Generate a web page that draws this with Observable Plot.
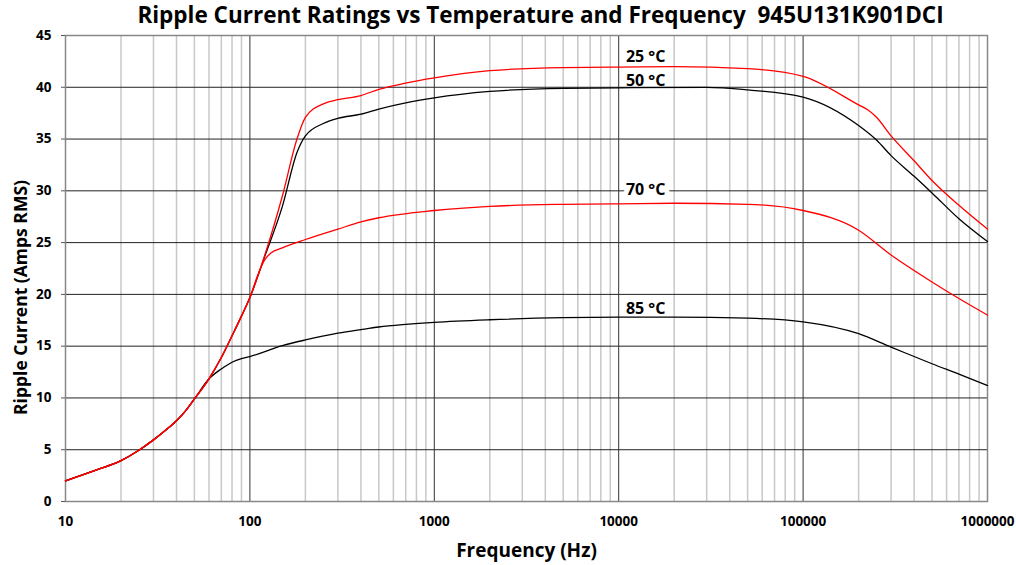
<!DOCTYPE html>
<html><head><meta charset="utf-8">
<script src="https://cdn.jsdelivr.net/npm/d3@7"></script>
<script src="https://cdn.jsdelivr.net/npm/@observablehq/plot@0.6"></script>
<style>body{margin:0;background:#fff} #chart{width:1016px;height:565px}</style>
</head><body><div id="chart"></div>
<script>
// Frequency (Hz) and ripple current (A RMS) per temperature series
const freq25 = [10,15,20,25,30,35,40,45,50,60,70,80,90,100,120,150,180,200,250,300,400,500,700,1000,2000,5000,10000,20000,50000,100000,200000,225000,250000,300000,400000,500000,700000,1000000];
const amps25 = [2,3.1,3.95,4.95,5.95,6.9,7.8,8.8,9.9,11.85,13.9,16.0,17.9,19.7,23.7,29.5,35.0,37.1,38.4,38.8,39.2,39.8,40.4,40.9,41.6,41.9,41.95,42,41.8,41.05,38.3,37.8,37.1,35.3,32.9,31.0,28.6,26.3];
const freq50 = [10,15,20,25,30,35,40,45,50,60,70,80,90,100,120,150,180,200,250,300,400,500,700,1000,2000,5000,10000,30000,50000,100000,200000,250000,300000,400000,500000,700000,1000000];
const amps50 = [2,3.1,3.95,4.95,5.95,6.9,7.8,8.8,9.9,11.85,13.9,16.0,17.9,19.7,23.6,28.5,33.7,35.3,36.5,37.0,37.4,37.9,38.5,38.98,39.6,39.9,39.95,40,39.75,39.05,36.3,34.9,33.4,31.4,29.8,27.3,25.1];
const freq70 = [10,15,20,25,30,35,40,45,50,60,70,80,90,100,110,120,130,150,200,300,400,500,1000,2000,5000,10000,20000,50000,100000,200000,300000,500000,700000,1000000];
const amps70 = [2,3.1,3.95,4.95,5.95,6.9,7.8,8.8,9.9,11.85,13.9,16.0,17.9,19.7,21.8,23.3,24.0,24.5,25.3,26.3,27.0,27.4,28.1,28.5,28.7,28.75,28.8,28.7,28.1,26.2,23.8,21.2,19.6,18.0];
const freq85 = [10,15,20,25,30,35,40,45,50,60,70,80,90,100,150,200,300,400,500,700,1000,2000,5000,10000,20000,50000,100000,200000,300000,400000,500000,700000,1000000];
const amps85 = [2,3.1,3.95,4.95,5.95,6.9,7.8,8.8,9.9,11.85,12.8,13.45,13.8,14.0,15.05,15.6,16.25,16.6,16.85,17.1,17.3,17.55,17.75,17.8,17.8,17.7,17.35,16.2,14.9,14.0,13.3,12.3,11.2];

const seriesNames = ["85 °C", "50 °C", "70 °C", "25 °C"];
const seriesColors = ["#000000", "#000000", "#ff0000", "#ff0000"];
const seriesFreqs = [freq85, freq50, freq70, freq25];
const seriesAmps = [amps85, amps50, amps70, amps25];

// Curve labels
const labelText = ["25 °C", "50 °C", "70 °C", "85 °C"];
const labelFreq = [14000, 14000, 14000, 14000];
const labelAmps = [42.9, 40.65, 30.1, 18.6];
const labelBoxed = [false, false, true, false];

const xTicks = [10, 100, 1000, 10000, 100000, 1000000];
const yTicks = [0, 5, 10, 15, 20, 25, 30, 35, 40, 45];
const yGrid = [5, 10, 15, 20, 25, 30, 35, 40];
const titleText = "Ripple Current Ratings vs Temperature and Frequency  945U131K901DCI";
const xLabel = "Frequency (Hz)";
const yLabel = "Ripple Current (Amps RMS)";

const rows = seriesNames.flatMap((s, i) => seriesFreqs[i].map((f, j) => ({series: s, f, a: seriesAmps[i][j]})));
const labels = labelText.map((t, i) => ({t, f: labelFreq[i], a: labelAmps[i], boxed: labelBoxed[i]}));
const minorX = xTicks.slice(0, -1).flatMap(d => [2,3,4,5,6,7,8,9].map(k => d * k));

const font = "'Open Sans', sans-serif";
const plot = Plot.plot({
  width: 1016,
  height: 565,
  marginTop: 35,
  marginBottom: 64,
  marginLeft: 65,
  marginRight: 29,
  style: {fontFamily: font, background: "#fff"},
  x: {type: "log", domain: [10, 1000000]},
  y: {domain: [0, 45]},
  color: {domain: seriesNames, range: seriesColors},
  marks: [
    Plot.ruleX(minorX, {stroke: "#c8c8c8", strokeWidth: 1.5}),
    Plot.ruleY(yGrid, {stroke: "#222", strokeWidth: 1}),
    Plot.ruleX(xTicks.slice(1, -1), {stroke: "#333", strokeWidth: 1}),
    Plot.frame({stroke: "#888", strokeWidth: 1.5}),
    Plot.axisX({ticks: xTicks, tickSize: 0, tickPadding: 15, tickFormat: d => String(d), fontSize: 13.5, fontWeight: "bold", label: null}),
    Plot.axisY({ticks: yTicks, tickSize: 4, tickPadding: 10, fontSize: 13.5, fontWeight: "bold", label: null, stroke: "#555"}),
    Plot.line(rows, {x: "f", y: "a", z: "series", stroke: "series", strokeWidth: 1.3, curve: "monotone-x"}),
    Plot.text(labels.filter(d => d.boxed), {x: "f", y: "a", text: "t", fontSize: 16, fontWeight: "bold", fill: "#000", stroke: "#fff", strokeWidth: 10, textAnchor: "middle", lineAnchor: "middle"}),
    Plot.text(labels.filter(d => !d.boxed), {x: "f", y: "a", text: "t", fontSize: 16, fontWeight: "bold", fill: "#000", textAnchor: "middle", lineAnchor: "middle"}),
    Plot.text([titleText], {text: d => d, frameAnchor: "top", dx: 14, dy: -20, fontSize: 22.5, fontWeight: "bold", lineAnchor: "middle"}),
    Plot.text([xLabel], {text: d => d, frameAnchor: "bottom", dy: 49, fontSize: 19, fontWeight: "bold", lineAnchor: "middle"}),
    Plot.text([yLabel], {text: d => d, frameAnchor: "left", textAnchor: "middle", dx: -44, dy: 29, rotate: -90, fontSize: 17.5, fontWeight: "bold", lineAnchor: "middle"})
  ]
});
document.getElementById("chart").appendChild(plot);
</script>
</body></html>
